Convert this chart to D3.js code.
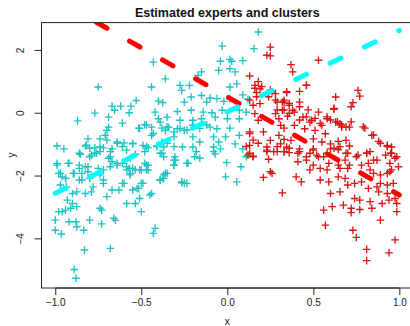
<!DOCTYPE html>
<html><head><meta charset="utf-8">
<script src="https://cdn.jsdelivr.net/npm/d3@7"></script>
<style>body{margin:0;background:#fff}svg{display:block}text{font-family:"Liberation Sans",Arial,sans-serif}</style>
</head><body>
<script>
const xTicks = [-1.0, -0.5, 0.0, 0.5, 1.0];
const xTickLabels = ["\u22121.0", "\u22120.5", "0.0", "0.5", "1.0"];
const yTicks = [-4, -2, 0, 2];
const yTickLabels = ["\u22124", "\u22122", "0", "2"];

const cyanPts = [
[-0.43,1.61],[-0.36,1.08],[-0.75,0.82],[-0.44,0.82],[-0.53,0.39],[-0.40,0.37],[-0.375,0.32],[-0.67,0.21],[-0.62,0.21],[-0.56,0.21],[-0.655,0.08],[-0.57,0.0],[-0.42,0.02],[-0.77,-0.01],[-0.69,-0.14],[-0.40,-0.19],[-0.39,-0.30],[-0.87,-0.26],[-0.61,-0.33],[-0.69,-0.46],[-0.70,-0.56],[-0.515,-0.49],[-0.48,-0.38],[-0.44,-0.46],[-0.38,-0.49],[-0.36,-0.56],[-0.71,-0.72],[-0.44,-0.72],[-0.81,-0.83],[-0.74,-0.83],[-0.99,-1.06],[-0.95,-1.15],[-0.64,-0.93],[-0.60,-0.96],[-0.55,-0.99],[-0.825,-1.06],[-0.77,-1.12],[-0.72,-1.12],[-0.67,-1.15],[-0.49,-1.04],[-0.46,-1.12],[-0.41,-1.06],[-0.38,-0.93],
[0.18,2.57],[-0.03,2.12],[0.155,2.04],[-0.04,1.64],[0.015,1.70],[0.026,1.64],[0.09,1.66],[-0.05,1.35],[0.015,1.40],[0.045,1.30],[-0.15,1.30],[-0.17,1.19],[-0.275,0.87],[-0.265,0.71],[-0.22,0.87],[0.015,0.82],[0.055,0.92],[-0.21,0.5],[-0.15,0.55],[-0.10,0.47],[-0.06,0.45],[-0.02,0.36],[0.015,0.45],[0.09,0.57],[0.12,0.43],[-0.25,0.34],[-0.12,0.34],[-0.29,0.04],[-0.21,0.08],[-0.14,0.02],[-0.09,0.0],[-0.03,0.08],[0.07,0.08],[0.11,0.02],[-0.35,-0.14],[-0.275,-0.24],[-0.20,-0.24],[-0.15,-0.19],[-0.07,-0.14],[0.0,-0.19],[0.07,-0.19],[-0.34,-0.46],[-0.29,-0.51],[-0.25,-0.56],[-0.10,-0.46],[-0.06,-0.51],[0.015,-0.49],[0.07,-0.72],[-0.31,-0.77],[-0.20,-0.77],[-0.16,-0.93],[-0.08,-0.77],[-0.05,-0.93],[-0.01,-0.77],[0.045,-0.99],[0.09,-1.15],[-0.37,-1.09],[-0.26,-1.09],[-0.20,-1.09],[-0.08,-1.09],[-0.04,-1.15],
[-0.82,-1.03],[-0.80,-1.13],[-0.74,-1.08],[-0.70,-0.87],[-0.86,-1.29],[-0.80,-1.40],[-0.76,-1.29],[-0.68,-1.40],[-0.64,-0.97],[-0.61,-1.08],[-0.585,-1.19],[-0.55,-0.97],[-0.47,-1.08],[-0.41,-1.08],[-0.35,-0.97],[-0.31,-1.08],[-0.51,-0.50],[-0.47,-0.39],[-0.43,-0.66],[-0.35,-0.45],[-0.31,-0.61],[-0.275,-0.50],[-0.235,-0.55],[-0.20,-0.39],[-0.16,-0.50],[-0.12,-0.39],[-0.37,-1.40],[-0.31,-1.51],[-0.235,-1.61],[-0.16,-1.45],[-0.64,-1.61],[-0.585,-1.72],
[-0.99,-1.67],[-0.925,-1.61],[-0.86,-1.67],[-0.81,-1.72],[-0.68,-1.72],[-0.64,-1.67],[-0.585,-1.82],[-0.55,-1.77],[-0.51,-1.82],[-0.47,-1.67],[-0.46,-1.82],[-0.97,-1.93],[-0.94,-2.09],[-0.895,-1.93],[-0.86,-2.14],[-0.80,-2.09],[-0.74,-1.98],[-0.72,-2.14],[-0.60,-2.25],[-0.565,-1.98],[-0.49,-2.25],[-0.525,-2.41],[-0.44,-2.57],[-0.37,-2.09],[-0.35,-1.93],[-0.31,-1.67],[-0.265,-2.20],[-0.235,-2.25],[-0.23,-1.61],
[-0.38,-1.29],[-0.31,-1.67],[-0.30,-1.51],[-0.305,-1.40],[-0.23,-1.61],[-0.19,-1.40],[-0.18,-1.24],[-0.08,-1.24],[-0.07,-1.31],[-0.004,-1.59],[0.08,-1.72],[0.11,-1.40],[-0.36,-1.93],[-0.375,-2.09],[-0.39,-2.14],[-0.265,-2.23],[-0.25,-2.25],[-0.01,-2.04],[0.055,-2.20],
[-0.99,-1.61],[-0.92,-1.61],[-0.855,-1.32],[-0.79,-1.35],[-0.77,-1.29],[-0.74,-1.24],[-0.68,-1.24],[-0.69,-1.45],[-0.67,-1.56],[-0.61,-1.61],[-0.565,-1.45],[-0.535,-1.32],[-0.48,-1.24],[-0.39,-1.29],
[-0.98,-1.93],[-0.96,-2.04],[-0.94,-2.09],[-0.89,-1.93],[-0.86,-1.77],[-0.845,-1.93],[-0.825,-1.72],[-0.81,-1.88],[-0.845,-2.14],[-0.75,-1.77],[-0.72,-1.82],[-0.57,-1.77],[-0.565,-1.93],[-0.535,-1.82],[-0.50,-1.82],[-0.48,-1.61],[-0.46,-1.67],[-0.47,-1.82],[-0.37,-1.98],[-0.39,-2.14],
[-0.97,-2.30],[-0.935,-2.36],[-0.90,-2.57],[-0.875,-2.52],[-0.825,-2.57],[-0.78,-2.36],[-0.79,-2.52],[-0.72,-2.25],[-0.70,-2.67],[-0.67,-2.46],[-0.63,-2.46],[-0.61,-2.25],[-0.55,-2.46],[-0.515,-2.41],[-0.50,-2.25],[-0.51,-2.73],[-0.45,-2.62],
[-0.93,-2.78],[-0.90,-2.89],[-0.875,-2.99],[-0.585,-2.89],[-0.535,-2.89],[-0.50,-3.15],
[-0.98,-3.15],[-0.96,-3.15],[-0.94,-3.10],[-0.91,-3.04],[-0.73,-3.10],[-0.74,-3.04],[-0.80,-3.42],[-0.66,-3.36],[-0.65,-3.42],[-1.0,-3.42],
[-0.92,-3.47],[-0.88,-3.47],[-0.875,-3.63],[-0.835,-3.74],[-0.73,-3.54],[-1.0,-3.74],[-0.965,-3.86],
[-0.83,-4.37],[-0.68,-4.32],[-0.89,-4.99],[-0.88,-5.27],[-0.42,-3.68],[-0.43,-3.84]
];

const redPts = [
[0.25,2.09],[0.23,1.83],[0.25,1.81],[0.13,1.17],[0.16,0.87],[0.19,0.76],[0.17,0.64],[0.26,0.66],[0.28,0.61],[0.15,0.24],[0.19,0.29],[0.29,0.34],[0.32,0.34],[0.16,-0.03],[0.18,-0.24],[0.28,-0.03],[0.30,-0.19],[0.31,-0.40],[0.13,-0.61],[0.21,-0.61],[0.25,-0.88],[0.30,-0.72],[0.31,-0.99],[0.13,-1.04],[0.23,-1.09],
[0.53,1.67],[0.37,1.53],[0.38,1.30],[0.46,0.87],[0.345,0.64],[0.42,0.68],[0.76,0.71],[0.77,0.53],[0.63,0.5],[0.73,0.32],[0.33,0.34],[0.36,0.24],[0.38,0.08],[0.42,0.34],[0.32,0.08],[0.35,-0.11],[0.39,0.02],[0.53,0.02],[0.62,0.11],[0.58,-0.19],[0.44,-0.14],[0.48,-0.30],[0.49,-0.24],[0.63,-0.30],[0.655,-0.35],[0.665,-0.46],[0.71,-0.46],[0.80,-0.49],[0.33,-0.49],[0.39,-0.40],[0.45,-0.51],[0.51,-0.56],[0.55,-0.40],[0.57,-0.67],[0.84,-0.72],[0.88,-0.91],[0.93,-1.04],[0.33,-0.85],[0.37,-0.88],[0.50,-0.83],[0.55,-0.93],[0.60,-0.99],[0.645,-0.91],[0.69,-0.88],[0.71,-1.06],[0.955,-1.09],[0.345,-1.09],[0.42,-1.15],[0.50,-1.15],[0.60,-1.15],[0.645,-1.17],
[0.33,-1.24],[0.36,-1.27],[0.42,-1.24],[0.48,-1.29],[0.52,-1.35],[0.56,-1.40],[0.59,-1.61],[0.645,-1.67],[0.70,-1.29],[0.76,-1.35],[0.81,-1.29],[0.83,-1.24],[0.92,-1.35],[0.955,-1.29],[0.975,-1.45],[0.995,-1.72],[0.41,-1.56],[0.46,-1.51],[0.50,-1.67],[0.685,-1.51],[0.71,-1.67],[0.78,-1.67],[0.82,-1.61],[0.87,-1.51],[0.945,-1.61],[0.955,-1.82],[0.48,-1.82],[0.54,-1.77],[0.58,-1.82],[0.655,-1.77],[0.70,-1.77],[0.83,-1.82],[0.85,-1.93],[0.89,-1.98],[0.93,-1.93],[0.945,-1.88],[0.40,-2.04],[0.43,-2.20],[0.54,-2.14],[0.59,-2.20],[0.645,-2.04],[0.685,-2.09],[0.70,-2.30],[0.74,-2.25],[0.78,-2.20],[0.82,-2.41],[0.87,-2.36],[0.89,-2.25],[0.93,-2.30],[0.965,-2.25],[0.88,-2.52],[0.93,-2.57],[0.32,-2.55],[0.60,-2.57],[0.655,-2.52],[0.74,-2.73],[0.77,-2.78],[0.83,-2.83],[0.90,-2.89],[0.94,-2.78],[0.975,-2.73],[0.985,-2.89],[0.56,-3.10],[0.61,-2.99],[0.675,-2.94],[0.72,-3.04],[0.72,-3.18],[0.77,-3.08],[0.84,-3.04],[0.985,-3.15],[0.89,-3.42],[0.57,-3.58],[0.73,-3.74],[0.75,-3.97],[0.975,-4.05],[0.81,-4.35],[0.94,-4.46],[0.81,-4.71],
[0.12,-1.35],[0.15,-1.38],[0.23,-1.24],[0.27,-1.24],[0.29,-1.24],[0.24,-1.48],[0.25,-1.88],[0.26,-1.93],[0.21,-2.06],
[0.18,0.99],[0.20,0.83],[0.16,0.78],[0.25,0.72],[0.345,0.67],[0.46,0.88],[0.62,0.14],[0.72,0.19],[0.13,0.40],[0.17,0.51],[0.24,0.51],[0.28,0.40],[0.33,0.40],[0.36,0.30],[0.33,0.09],[0.36,-0.02],[0.29,0.09],[0.42,0.19],[0.47,0.09],[0.46,-0.13],[0.42,-0.23],[0.51,-0.18],[0.54,-0.34],[0.58,-0.13],[0.60,-0.23],[0.64,-0.29],[0.665,-0.39],[0.69,-0.45],[0.72,-0.29],[0.79,-0.45],[0.85,-0.71],[0.89,-0.97],[0.93,-1.08],[0.95,-1.29],[0.985,-1.40],
[0.13,-0.66],[0.15,-0.87],[0.11,-1.08],[0.13,-1.29],[0.18,-0.97],[0.23,-1.19],[0.29,-1.08],[0.33,-1.24],[0.36,-1.13],[0.41,-1.29],[0.46,-1.40],[0.50,-1.19],[0.53,-1.40],[0.58,-1.29],[0.62,-1.13],[0.655,-1.08],[0.69,-1.29],[0.75,-1.40],[0.81,-1.29],[0.85,-1.51],[0.15,-1.40]
];

const redLineX = [-1, 1], redLineY = [3.63, -2.62];
const cyanLineX = [-1, 1], cyanLineY = [-2.56, 2.62];

const W = 410, H = 326;
const svg = d3.select("body").append("svg").attr("width", W).attr("height", H);
const x = d3.scaleLinear().domain([-1.08, 1.08]).range([41.5, 413.1]);
const y = d3.scaleLinear().domain([-5.58, 2.87]).range([288, 22.6]);

svg.append("defs").append("clipPath").attr("id", "clip")
  .append("rect").attr("x", 41.5).attr("y", 22.6).attr("width", 413.1 - 41.5).attr("height", 288 - 22.6);

const plot = svg.append("g").attr("clip-path", "url(#clip)");
const cross = "M-3.8,0H3.8M0,-3.8V3.8";

plot.append("g").selectAll("path").data(cyanPts).join("path")
  .attr("d", cross).attr("transform", d => `translate(${x(d[0])},${y(d[1])})`)
  .attr("stroke", "#1dc3c3").attr("stroke-width", 1.35).attr("fill", "none");
plot.append("g").selectAll("path").data(redPts).join("path")
  .attr("d", cross).attr("transform", d => `translate(${x(d[0])},${y(d[1])})`)
  .attr("stroke", "#d81414").attr("stroke-width", 1.35).attr("fill", "none");

const line = d3.line().x(d => x(d[0])).y(d => y(d[1]));
plot.append("path").datum(redLineX.map((v, i) => [v, redLineY[i]]))
  .attr("d", line).attr("stroke", "#ff0000").attr("stroke-width", 5).attr("fill", "none")
  .attr("stroke-linecap", "round").attr("stroke-dasharray", "12 26").attr("stroke-dashoffset", 28.5);
plot.append("path").datum(cyanLineX.map((v, i) => [v, cyanLineY[i]]))
  .attr("d", line).attr("stroke", "#00ffff").attr("stroke-width", 5).attr("fill", "none")
  .attr("stroke-linecap", "round").attr("stroke-dasharray", "12 26");

// box
svg.append("rect").attr("x", 41.5).attr("y", 22.6).attr("width", 413.1 - 41.5).attr("height", 288 - 22.6)
  .attr("fill", "none").attr("stroke", "#222").attr("stroke-width", 1);

// axes
const xAxis = d3.axisBottom(x).tickValues(xTicks).tickSize(7).tickPadding(4)
  .tickFormat((d, i) => xTickLabels[i]);
const gx = svg.append("g").attr("transform", "translate(0,288)").call(xAxis);
gx.select(".domain").attr("d", `M${x(-1)},0H${x(1)}`).attr("stroke", "#222");
gx.selectAll(".tick line").attr("stroke", "#222");
gx.selectAll(".tick text").attr("font-size", 10).attr("fill", "#222").attr("font-family", "Liberation Sans, Arial, sans-serif");

const yAxis = d3.axisLeft(y).tickValues(yTicks).tickSize(7).tickFormat((d, i) => yTickLabels[i]);
const gy = svg.append("g").attr("transform", "translate(41.5,0)").call(yAxis);
gy.select(".domain").attr("d", `M0,${y(-4)}V${y(2)}`).attr("stroke", "#222");
gy.selectAll(".tick line").attr("stroke", "#222");
gy.selectAll(".tick text").attr("font-size", 10).attr("fill", "#222")
  .attr("font-family", "Liberation Sans, Arial, sans-serif")
  .attr("x", null).attr("dy", null).attr("text-anchor", "middle")
  .attr("transform", "translate(-17.8,0) rotate(-90)");

svg.append("text").attr("x", 227.3).attr("y", 17).attr("text-anchor", "middle")
  .attr("font-size", 12.5).attr("font-weight", "bold").attr("fill", "#111").text("Estimated experts and clusters");
svg.append("text").attr("x", 227.3).attr("y", 325).attr("text-anchor", "middle")
  .attr("font-size", 10).attr("fill", "#222").text("x");
svg.append("text").attr("transform", "translate(14.5,155) rotate(-90)").attr("text-anchor", "middle")
  .attr("font-size", 10).attr("fill", "#222").text("y");
</script>
</body></html>
